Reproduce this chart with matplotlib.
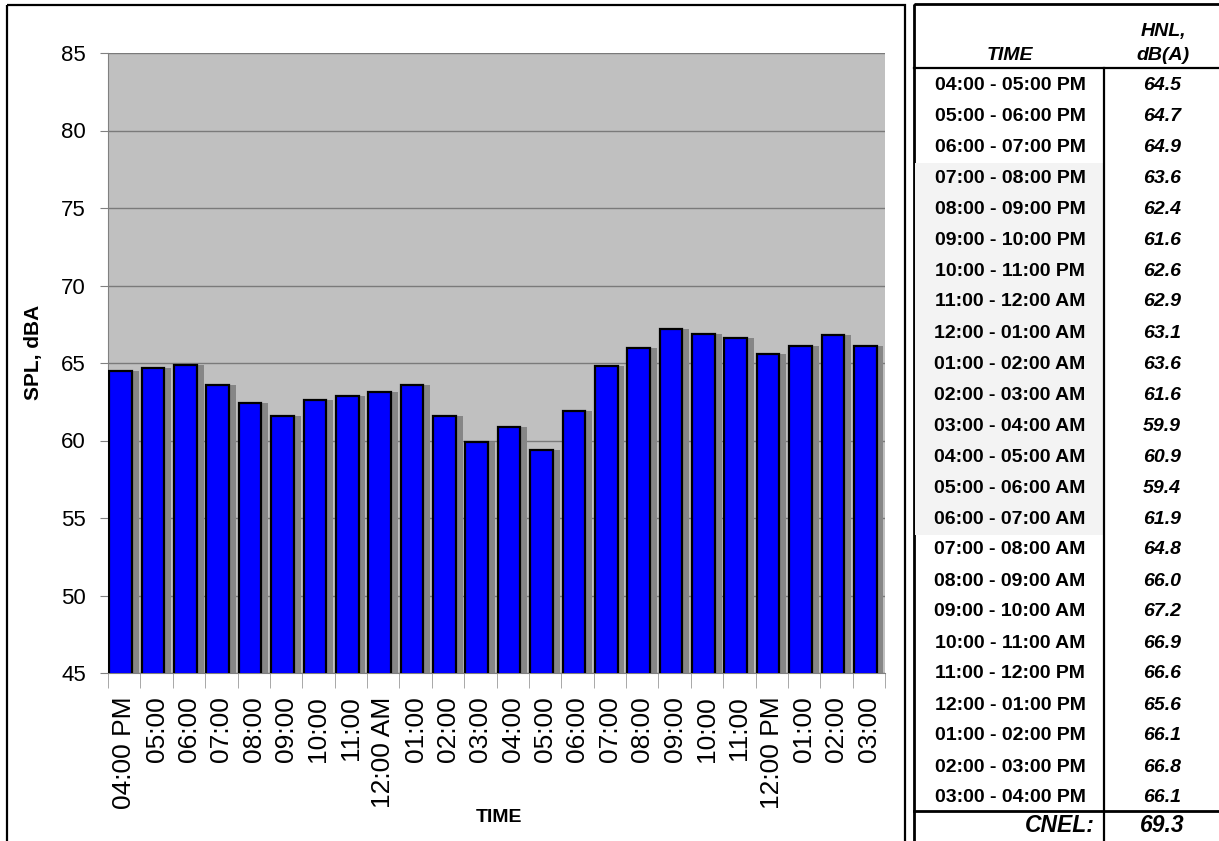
import numpy as np
import matplotlib
matplotlib.use('Agg')
import matplotlib.pyplot as plt
from matplotlib.patches import Rectangle
from matplotlib.lines import Line2D

plt.rcParams['font.family'] = ['Liberation Sans', 'DejaVu Sans']

tick_labels = ['04:00 PM', '05:00', '06:00', '07:00', '08:00', '09:00',
               '10:00', '11:00', '12:00 AM', '01:00', '02:00', '03:00',
               '04:00', '05:00', '06:00', '07:00', '08:00', '09:00',
               '10:00', '11:00', '12:00 PM', '01:00', '02:00', '03:00']

periods = ['04:00 - 05:00 PM', '05:00 - 06:00 PM', '06:00 - 07:00 PM',
           '07:00 - 08:00 PM', '08:00 - 09:00 PM', '09:00 - 10:00 PM',
           '10:00 - 11:00 PM', '11:00 - 12:00 AM', '12:00 - 01:00 AM',
           '01:00 - 02:00 AM', '02:00 - 03:00 AM', '03:00 - 04:00 AM',
           '04:00 - 05:00 AM', '05:00 - 06:00 AM', '06:00 - 07:00 AM',
           '07:00 - 08:00 AM', '08:00 - 09:00 AM', '09:00 - 10:00 AM',
           '10:00 - 11:00 AM', '11:00 - 12:00 PM', '12:00 - 01:00 PM',
           '01:00 - 02:00 PM', '02:00 - 03:00 PM', '03:00 - 04:00 PM']

hnl = [64.5, 64.7, 64.9, 63.6, 62.4, 61.6, 62.6, 62.9, 63.1, 63.6, 61.6, 59.9,
       60.9, 59.4, 61.9, 64.8, 66.0, 67.2, 66.9, 66.6, 65.6, 66.1, 66.8, 66.1]
cnel = 69.3
night = list(range(3, 15))  # shaded rows 07:00 PM - 07:00 AM

W, H = 1219, 841
fig = plt.figure(figsize=(W / 100, H / 100), dpi=100)

# ---- bar chart ----
ax = fig.add_axes([108 / W, 1 - 673 / H, 777 / W, 620 / H])
ax.set_facecolor('#c0c0c0')
x = np.arange(len(hnl))
left = x - 0.5 + 0.04
ax.bar(left + 0.21, hnl, width=0.7, align='edge', color='#868686',
       edgecolor='none', zorder=2)
ax.bar(left, hnl, width=0.7, align='edge', color='#0000ff',
       edgecolor='black', linewidth=1.6, zorder=3)

ax.set_xlim(-0.5, len(hnl) - 0.5)
ax.set_ylim(45, 85)
ax.set_yticks(range(45, 86, 5))
ax.yaxis.grid(True, color='#7a7a7a', linewidth=1.0, zorder=1)
ax.set_axisbelow(True)
ax.tick_params(axis='y', labelsize=16, length=6, color='#808080', pad=10)

ax.set_xticks(x)
ax.set_xticklabels(tick_labels, rotation=90, fontsize=19)
ax.set_xticks(np.arange(-0.5, len(hnl)), minor=True)
ax.tick_params(axis='x', which='major', length=0, pad=17)
ax.tick_params(axis='x', which='minor', length=11, color='#9a9a9a')

for s in ['top', 'right']:
    ax.spines[s].set_visible(False)
for s in ['left', 'bottom']:
    ax.spines[s].set_color('#808080')

fig.text(33 / W, 1 - 352 / H, 'SPL, dBA', rotation=90, fontsize=15,
         fontweight='bold', ha='center', va='center')
fig.text(499 / W, 1 - 818 / H, 'TIME', fontsize=14, fontweight='bold',
         ha='center', va='center')

# ---- overlay in pixel coords for boxes and table ----
ov = fig.add_axes([0, 0, 1, 1])
ov.set_xlim(0, W)
ov.set_ylim(H, 0)
ov.axis('off')

ov.add_patch(Rectangle((7, 5), 898, 850, fill=False, edgecolor='black',
                       linewidth=1.6))
ov.add_patch(Rectangle((914, 4), 320, 850, fill=False, edgecolor='black',
                       linewidth=2.0))

col_div = 1104
head_y = 68
cnel_y = 811
row0 = 85
step = 31.0

for i in night:
    yc = row0 + i * step
    ov.add_patch(Rectangle((915, yc - step / 2), col_div - 915, step,
                           facecolor='#f3f3f3', edgecolor='none'))

ov.add_line(Line2D([914, W + 5], [head_y, head_y], color='black', lw=1.6))
ov.add_line(Line2D([914, W + 5], [cnel_y, cnel_y], color='black', lw=2.0))
ov.add_line(Line2D([col_div, col_div], [head_y, H + 5], color='black',
                   lw=1.6))

ov.text(1010, 55, 'TIME', fontsize=14, fontweight='bold', style='italic',
        ha='center', va='center')
ov.text(1163, 31, 'HNL,', fontsize=14, fontweight='bold', style='italic',
        ha='center', va='center')
ov.text(1163, 55, 'dB(A)', fontsize=14, fontweight='bold', style='italic',
        ha='center', va='center')

for i, (p, v) in enumerate(zip(periods, hnl)):
    yc = row0 + i * step
    ov.text(1010, yc, p, fontsize=14, fontweight='bold', ha='center',
            va='center')
    ov.text(1162, yc, '%.1f' % v, fontsize=14, fontweight='bold',
            style='italic', ha='center', va='center')

ov.text(1095, 826, 'CNEL:', fontsize=16.5, fontweight='bold', style='italic',
        ha='right', va='center')
ov.text(1162, 826, '%.1f' % cnel, fontsize=16.5, fontweight='bold',
        style='italic', ha='center', va='center')

fig.savefig('out.png', dpi=100, facecolor='white')
